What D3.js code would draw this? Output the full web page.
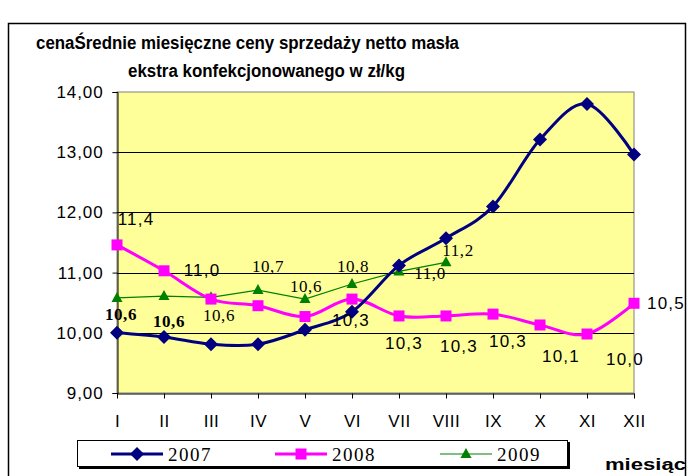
<!DOCTYPE html>
<html>
<head>
<meta charset="utf-8">
<script src="https://cdn.jsdelivr.net/npm/d3@7"></script>
<style>
  body { margin: 0; background: #fff; }
  svg { display: block; }
  text { font-family: Arial, "Liberation Sans", sans-serif; }
  .serif { font-family: "Times New Roman", "Liberation Serif", serif; }
</style>
</head>
<body>
<svg id="chart" width="688" height="476"></svg>
<script>
// dane
var months = ["I", "II", "III", "IV", "V", "VI", "VII", "VIII", "IX", "X", "XI", "XII"];
var yTicks = [9, 10, 11, 12, 13, 14];
var years = ["2007", "2008", "2009"];
var values2007 = [10.00, 9.93, 9.81, 9.81, 10.05, 10.35, 11.12, 11.57, 12.10, 13.21, 13.80, 12.96];
var values2008 = [11.46, 11.03, 10.56, 10.45, 10.27, 10.56, 10.28, 10.28, 10.31, 10.13, 9.98, 10.49];
var values2009 = [10.58, 10.61, 10.59, 10.71, 10.56, 10.81, 11.02, 11.17];

// etykiety danych (tekst jak na wykresie)
var labels2008 = ["11,4", "11,0", "10,3", "10,3", "10,3", "10,3", "10,1", "10,0", "10,5"];
var labels2009 = ["10,6", "10,6", "10,6", "10,7", "10,6", "10,8", "11,0", "11,2"];

// polozenie etykiet: indeks punktu + przesuniecie
var lab2008Pos = [[0, 19, -20], [1, 38, 5], [5, -1, 27], [6, 5, 33], [7, 13, 36], [8, 15, 33], [9, 21, 37], [10, 38, 31], [11, 13, 6]];
var lab2009Pos = [[0, 4, 22], [1, 5, 31], [2, 8, 24], [3, 10, -18], [4, 1, -7], [5, 1, -12], [6, 31, 8], [7, 12, -6]];

var svg = d3.select("#chart");

var plot = {left: 117, right: 634, top: 92, bottom: 393};

var x = d3.scalePoint().domain(months).range([plot.left, plot.right]);
var y = d3.scaleLinear().domain([9, 14]).range([plot.bottom, plot.top]);

// ramka wykresu
svg.append("rect")
    .attr("x", 8.5).attr("y", 23.5)
    .attr("width", 677).attr("height", 470)
    .attr("fill", "#fff")
    .attr("stroke", "#000")
    .attr("stroke-width", 1.5);

// tytul
svg.append("text")
    .attr("x", 36).attr("y", 49)
    .attr("font-size", 18).attr("font-weight", "bold")
    .attr("textLength", 423).attr("lengthAdjust", "spacingAndGlyphs")
    .text("cenaŚrednie miesięczne ceny sprzedaży netto masła");
svg.append("text")
    .attr("x", 128).attr("y", 77)
    .attr("font-size", 18).attr("font-weight", "bold")
    .attr("textLength", 277).attr("lengthAdjust", "spacingAndGlyphs")
    .text("ekstra konfekcjonowanego w zł/kg");

// obszar kreslenia
svg.append("rect")
    .attr("x", plot.left).attr("y", plot.top)
    .attr("width", plot.right - plot.left).attr("height", plot.bottom - plot.top)
    .attr("fill", "#ffff99")
    .attr("stroke", "#808080")
    .attr("stroke-width", 1);

// linie siatki
svg.append("g")
    .selectAll("line")
    .data(yTicks.filter(function(d){ return d > 9 && d < 14; }))
    .enter()
    .append("line")
    .attr("x1", plot.left).attr("x2", plot.right)
    .attr("y1", function(d){ return Math.round(y(d)) + 0.5; })
    .attr("y2", function(d){ return Math.round(y(d)) + 0.5; })
    .attr("stroke", "#000")
    .attr("stroke-width", 1);

// os Y
var yAxis = svg.append("g")
    .attr("transform", "translate(" + (plot.left + 0.5) + ",0)")
    .call(d3.axisLeft(y).tickValues(yTicks).tickSize(5).tickPadding(9)
        .tickFormat(function(d){ return d3.format(".2f")(d).replace(".", ","); }));
yAxis.selectAll("text")
    .attr("font-size", 17).attr("fill", "#000")
    .style("font-family", "Arial, 'Liberation Sans', sans-serif")
    .attr("letter-spacing", 0.9);
yAxis.selectAll("line, path").attr("stroke", "#000");

// os X
var xAxis = svg.append("g")
    .attr("transform", "translate(0," + (plot.bottom + 0.5) + ")")
    .call(d3.axisBottom(x).tickSize(5).tickPadding(16).tickSizeOuter(0));
xAxis.selectAll("text")
    .attr("font-size", 17).attr("fill", "#000")
    .style("font-family", "Arial, 'Liberation Sans', sans-serif")
    .attr("letter-spacing", 0.5);
xAxis.selectAll("line, path").attr("stroke", "#000");

// linie serii
var smooth = d3.line()
    .x(function(d, i){ return x(months[i]); })
    .y(function(d){ return y(d); })
    .curve(d3.curveCardinal.tension(0));

var straight = d3.line()
    .x(function(d, i){ return x(months[i]); })
    .y(function(d){ return y(d); });

svg.append("path")
    .attr("d", straight(values2009))
    .attr("fill", "none").attr("stroke", "#008000").attr("stroke-width", 1.2);

svg.append("path")
    .attr("d", smooth(values2008))
    .attr("fill", "none").attr("stroke", "#ff00ff").attr("stroke-width", 3);

svg.append("path")
    .attr("d", smooth(values2007))
    .attr("fill", "none").attr("stroke", "#000080").attr("stroke-width", 3);

// znaczniki
var diamond = "M0,-7L7,0L0,7L-7,0Z";
var square = "M-5.5,-5.5L5.5,-5.5L5.5,5.5L-5.5,5.5Z";
var triangle = "M0,-6L5.5,4L-5.5,4Z";

svg.append("g").selectAll("path")
    .data(values2009).enter().append("path")
    .attr("d", triangle)
    .attr("transform", function(d, i){ return "translate(" + x(months[i]) + "," + y(d) + ")"; })
    .attr("fill", "#008000");

svg.append("g").selectAll("path")
    .data(values2008).enter().append("path")
    .attr("d", square)
    .attr("transform", function(d, i){ return "translate(" + x(months[i]) + "," + y(d) + ")"; })
    .attr("fill", "#ff00ff");

svg.append("g").selectAll("path")
    .data(values2007).enter().append("path")
    .attr("d", diamond)
    .attr("transform", function(d, i){ return "translate(" + x(months[i]) + "," + y(d) + ")"; })
    .attr("fill", "#000080");

// etykiety danych
svg.append("g").selectAll("text")
    .data(lab2009Pos).enter().append("text")
    .attr("class", "serif")
    .attr("x", function(d){ return x(months[d[0]]) + d[1]; })
    .attr("y", function(d){ return y(values2009[d[0]]) + d[2]; })
    .attr("text-anchor", "middle")
    .attr("font-size", 17)
    .attr("letter-spacing", 0.6)
    .attr("font-weight", function(d, i){ return i < 2 ? "bold" : "normal"; })
    .text(function(d, i){ return labels2009[i]; });

svg.append("g").selectAll("text")
    .data(lab2008Pos).enter().append("text")
    .attr("x", function(d){ return x(months[d[0]]) + d[1]; })
    .attr("y", function(d){ return y(values2008[d[0]]) + d[2]; })
    .attr("text-anchor", function(d){ return d[0] == 11 ? "start" : "middle"; })
    .attr("font-size", 17)
    .attr("letter-spacing", 1.2)
    .text(function(d, i){ return labels2008[i]; });

// legenda
var legend = svg.append("g");
legend.append("rect")
    .attr("x", 79).attr("y", 442).attr("width", 491).attr("height", 27)
    .attr("fill", "#000");
legend.append("rect")
    .attr("x", 77.5).attr("y", 440.5).attr("width", 490).attr("height", 26)
    .attr("fill", "#fff").attr("stroke", "#000").attr("stroke-width", 1);

var legendX = [111, 275, 440];
var legendColors = ["#000080", "#ff00ff", "#008000"];
var legendWidths = [3, 3, 1.2];
var legendMarks = [diamond, square, triangle];

var items = legend.selectAll("g.item")
    .data(years).enter().append("g")
    .attr("class", "item")
    .attr("transform", function(d, i){ return "translate(" + legendX[i] + ",454)"; });
items.append("line")
    .attr("x1", 0).attr("x2", 52).attr("y1", 0).attr("y2", 0)
    .attr("stroke", function(d, i){ return legendColors[i]; })
    .attr("stroke-width", function(d, i){ return legendWidths[i]; });
items.append("path")
    .attr("d", function(d, i){ return legendMarks[i]; })
    .attr("transform", "translate(26,0)")
    .attr("fill", function(d, i){ return legendColors[i]; });
items.append("text")
    .attr("class", "serif")
    .attr("x", 57).attr("y", 7)
    .attr("font-size", 19)
    .attr("letter-spacing", 1.5)
    .text(function(d){ return d; });

// opis osi X
svg.append("text")
    .attr("x", 605).attr("y", 470)
    .attr("font-size", 17).attr("font-weight", "bold")
    .attr("textLength", 81).attr("lengthAdjust", "spacingAndGlyphs")
    .text("miesiąc");
</script>
</body>
</html>
